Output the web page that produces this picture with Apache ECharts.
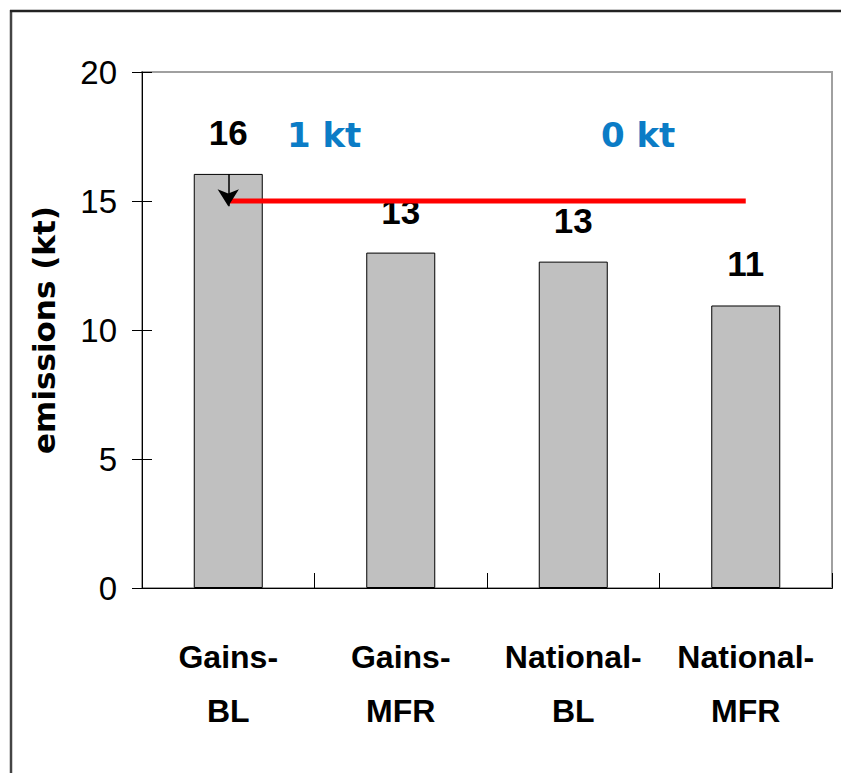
<!DOCTYPE html>
<html>
<head>
<meta charset="utf-8">
<script src="https://cdn.jsdelivr.net/npm/echarts@6/dist/echarts.min.js"></script>
<style>
  html, body { margin: 0; padding: 0; background: #fff; overflow: hidden; }
  #chart { width: 841px; height: 773px; }
</style>
</head>
<body>
<div id="chart"></div>
<script>
const categories = ['Gains-\nBL', 'Gains-\nMFR', 'National-\nBL', 'National-\nMFR']
const emissions = [16.05, 13.0, 12.65, 10.95]
const targetLine = [15, 15, 15, 15]
const yTicks = { min: 0, max: 20, interval: 5 }

const sans = "'Liberation Sans', Arial, sans-serif"
const wide = "'DejaVu Sans', Verdana, sans-serif"
const blue = '#0b7cc6'

const chart = echarts.init(document.getElementById('chart'), null, { renderer: 'svg' })

const option = {
  backgroundColor: '#fff',
  animation: false,
  grid: {
    left: 142, right: 9, top: 72, bottom: 185,
    show: true, borderColor: '#a0a0a0', borderWidth: 2
  },
  xAxis: [
    {
      type: 'category',
      data: categories,
      axisLine: { lineStyle: { color: '#000', width: 1 } },
      axisTick: { length: 15, lineStyle: { color: '#000' } },
      axisLabel: {
        color: '#000', fontFamily: sans, fontWeight: 'bold',
        fontSize: 32, lineHeight: 54, margin: 42, interval: 0
      }
    },
    {
      type: 'category',
      data: categories,
      position: 'bottom',
      axisLine: { show: true, lineStyle: { color: '#000', width: 1 } },
      axisTick: { show: true, inside: true, length: 15, lineStyle: { color: '#000' } },
      axisLabel: { show: false }
    }
  ],
  yAxis: [
    {
      type: 'value',
      min: yTicks.min, max: yTicks.max, interval: yTicks.interval,
      name: 'emissions (kt)',
      nameLocation: 'middle',
      nameGap: 83,
      nameRotate: 90,
      nameTextStyle: { color: '#000', fontFamily: wide, fontWeight: 'bold', fontSize: 31 },
      axisLine: { show: true, lineStyle: { color: '#000', width: 1 } },
      axisTick: { show: true, length: 10, lineStyle: { color: '#000' } },
      axisLabel: { color: '#000', fontFamily: sans, fontSize: 33, margin: 25 },
      splitLine: { show: false }
    },
    {
      type: 'value',
      position: 'left',
      min: yTicks.min, max: yTicks.max, interval: yTicks.interval,
      axisLine: { show: false },
      axisTick: { show: true, inside: true, length: 10, lineStyle: { color: '#000' } },
      axisLabel: { show: false },
      splitLine: { show: false }
    }
  ],
  series: [
    {
      type: 'bar',
      data: emissions,
      barWidth: '40%',
      itemStyle: { color: '#c0c0c0', borderColor: '#000', borderWidth: 1 },
      label: {
        show: true, position: 'top', distance: 24,
        color: '#000', fontFamily: sans, fontWeight: 'bold', fontSize: 35,
        formatter: (p) => Math.round(p.value)
      },
      markLine: {
        silent: true,
        symbol: ['none', 'arrow'],
        symbolSize: [16, 17],
        label: { show: false },
        lineStyle: { color: '#000', width: 1.5, type: 'solid' },
        data: [[{ coord: [0, emissions[0]] }, { coord: [0, 14.8] }]]
      },
      z: 2
    },
    {
      type: 'line',
      data: targetLine,
      showSymbol: false,
      symbol: 'none',
      lineStyle: { color: '#ff0000', width: 5 },
      z: 3
    }
  ],
  graphic: [
    {
      type: 'line', silent: true,
      shape: { x1: 11, y1: 10, x2: 11, y2: 773 },
      style: { stroke: '#444', lineWidth: 2.5 }
    },
    {
      type: 'line', silent: true,
      shape: { x1: 10, y1: 11, x2: 841, y2: 11 },
      style: { stroke: '#222', lineWidth: 2.5 }
    },
    {
      type: 'text', left: 287, top: 118,
      style: { text: '1 kt', fill: blue, font: 'bold 34px ' + wide }
    },
    {
      type: 'text', left: 601, top: 118,
      style: { text: '0 kt', fill: blue, font: 'bold 34px ' + wide }
    }
  ]
}

chart.setOption(option)
</script>
</body>
</html>
